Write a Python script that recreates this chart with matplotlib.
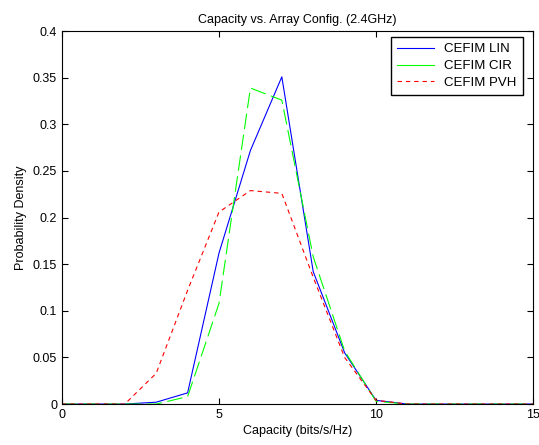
import matplotlib
matplotlib.use("Agg")
import matplotlib.pyplot as plt
from matplotlib.lines import Line2D
import numpy as np

plt.rcParams['font.family'] = ['Liberation Sans', 'DejaVu Sans']

capacity = list(range(16))
lin = [0, 0, 0, 0.002, 0.012, 0.162, 0.272, 0.351, 0.142, 0.055, 0.004, 0, 0, 0, 0, 0]
cir = [0, 0, 0, 0, 0.008, 0.108, 0.339, 0.326, 0.158, 0.057, 0.003, 0, 0, 0, 0, 0]
pvh = [0, 0, 0, 0.033, 0.122, 0.206, 0.229, 0.226, 0.136, 0.050, 0.004, 0, 0, 0, 0, 0]

fig = plt.figure(figsize=(5.39, 4.45), dpi=100)
ax = fig.add_axes([0.115, 0.092, 0.874, 0.838])

ax.plot(capacity, lin, color='#0000ff', linewidth=0.8, label='CEFIM LIN')
ax.plot(capacity, cir, color='#00ff00', linewidth=0.8, dashes=(14, 5), label='CEFIM CIR')
ax.plot(capacity, pvh, color='#ff0000', linewidth=0.8, dashes=(4, 3.5), label='CEFIM PVH')

ax.set_xlim(0, 15)
ax.set_ylim(0, 0.4)
ax.set_xticks([0, 5, 10, 15])
ax.set_yticks(np.arange(0, 0.41, 0.05))
ax.set_yticklabels(['0', '0.05', '0.1', '0.15', '0.2', '0.25', '0.3', '0.35', '0.4'])
ax.tick_params(direction='in', top=True, right=True, labelsize=9, length=4, width=0.8)
for s in ax.spines.values():
    s.set_linewidth(0.8)

ax.set_title('Capacity vs. Array Config. (2.4GHz)', fontsize=9, pad=6)
ax.set_xlabel('Capacity (bits/s/Hz)', fontsize=9, labelpad=3)
ax.set_ylabel('Probability Density', fontsize=9, labelpad=4)

handles = [
    Line2D([], [], color='#0000ff', linewidth=0.8),
    Line2D([], [], color='#00ff00', linewidth=0.8),
    Line2D([], [], color='#ff0000', linewidth=0.8, dashes=(4, 3.5)),
]
leg = ax.legend(handles, ['CEFIM LIN', 'CEFIM CIR', 'CEFIM PVH'], loc='upper right',
                bbox_to_anchor=(0.978, 0.984), borderaxespad=0,
                fontsize=9.5, fancybox=False, edgecolor='black', framealpha=1,
                handlelength=2.8, handletextpad=0.8, labelspacing=0.35, borderpad=0.45)
leg.get_frame().set_linewidth(1.0)

fig.savefig('out.png', dpi=100)
